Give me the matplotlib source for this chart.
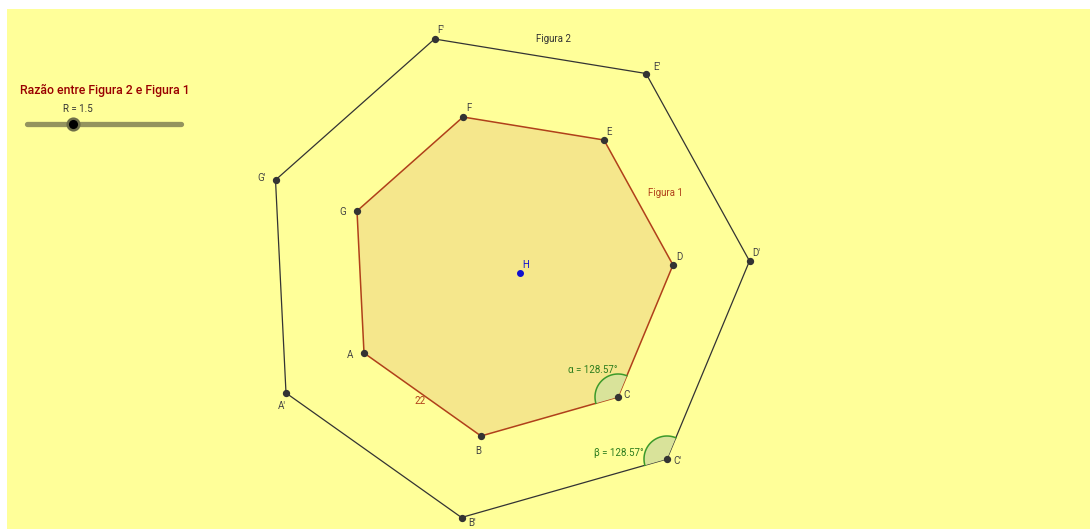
import numpy as np
import matplotlib.pyplot as plt
from matplotlib.patches import Polygon, Rectangle

# inner heptagon (Figura 1), screen coordinates
labels = ['A', 'B', 'C', 'D', 'E', 'F', 'G']
inner_x = [364, 481, 618, 673, 604, 463, 357]
inner_y = [353, 436, 397, 265, 140, 117, 211]
center = (520, 273)  # H
R = 1.5
side_label = '22'
angle_text = '128.57°'

# outer heptagon (Figura 2) = homothety of Figura 1 from H with ratio R
ix = np.array(inner_x, dtype=float)
iy = np.array(inner_y, dtype=float)
ox = center[0] + R * (ix - center[0])
oy = center[1] + R * (iy - center[1])

bg = '#FFFF99'
brown = '#B0401A'
green = '#2E7D1E'
dark = '#333333'

plt.rcParams['font.family'] = ['Roboto', 'DejaVu Sans']

fig = plt.figure(figsize=(10.9, 5.29), dpi=100)
fig.patch.set_facecolor('white')
ax = fig.add_axes([0, 0, 1, 1])
ax.set_xlim(0, 1090)
ax.set_ylim(529, 0)
ax.axis('off')

ax.add_patch(Rectangle((7, 9), 1090, 529, facecolor=bg, edgecolor='none', zorder=0))

# polygons
ax.add_patch(Polygon(np.column_stack([ix, iy]), closed=True, facecolor='#F5E78C',
                     edgecolor=brown, linewidth=1.1, zorder=2))
ax.add_patch(Polygon(np.column_stack([ox, oy]), closed=True, facecolor='none',
                     edgecolor=dark, linewidth=0.9, zorder=2))


def angle_sector(px, py, qx, qy, rx, ry, radius=23):
    a1 = np.arctan2(qy - py, qx - px)
    a2 = np.arctan2(ry - py, rx - px)
    d = (a2 - a1 + np.pi) % (2 * np.pi) - np.pi
    t = np.linspace(a1, a1 + d, 40)
    pts = np.column_stack([px + radius * np.cos(t), py + radius * np.sin(t)])
    pts = np.vstack([[px, py], pts])
    ax.add_patch(Polygon(pts, closed=True, facecolor='#D9E39A', edgecolor='none', zorder=3))
    ax.plot(pts[1:, 0], pts[1:, 1], color='#3C9A2A', linewidth=1.1, zorder=3)


# angle at C (between CD and CB) and at C'
angle_sector(ix[2], iy[2], ix[3], iy[3], ix[1], iy[1])
angle_sector(ox[2], oy[2], ox[3], oy[3], ox[1], oy[1])

# points
ax.scatter(ix, iy, s=18, color=dark, zorder=5)
ax.scatter(ox, oy, s=18, color=dark, zorder=5)
ax.scatter([center[0]], [center[1]], s=16, color='#1010D0', zorder=5)

# point labels (offsets in pixels)
inner_off = [(-14, 2), (-3, 15), (9, -2), (6, -8), (5, -8), (6, -9), (-14, 1)]
outer_off = [(-4, 13), (11, 5), (10, 2), (7, -8), (11, -6), (6, -9), (-14, -2)]
for lab, x, y, (dx, dy) in zip(labels, ix, iy, inner_off):
    ax.text(x + dx, y + dy, lab, fontsize=7, color='#444444', ha='center', va='center', zorder=6)
for lab, x, y, (dx, dy) in zip(labels, ox, oy, outer_off):
    ax.text(x + dx, y + dy, lab + "'", fontsize=7, color='#444444', ha='center', va='center', zorder=6)
ax.text(center[0] + 6, center[1] - 8, 'H', fontsize=7, color='#1010D0', ha='center', va='center', zorder=6)

# other labels
ax.text(554, 39, 'Figura 2', fontsize=7, color=dark, ha='center', va='center')
ax.text(665, 193, 'Figura 1', fontsize=7, color=brown, ha='center', va='center')
ax.text(420, 401, side_label, fontsize=7, color=brown, ha='center', va='center')
ax.text(593, 370, 'α = ' + angle_text, fontsize=7, color=green, ha='center', va='center')
ax.text(619, 453, 'β = ' + angle_text, fontsize=7, color=green, ha='center', va='center', zorder=6)

# slider
ax.text(20, 90, 'Razão entre Figura 2 e Figura 1', fontsize=8.8, color='#990000',
        ha='left', va='center', fontweight='medium')
slider_min, slider_max = 0, 5
sx0, sx1, sy = 27, 181, 124
ax.plot([sx0, sx1], [sy, sy], color='#94945E', linewidth=3.8, solid_capstyle='round', zorder=3)
knob_x = sx0 + (R - slider_min) / (slider_max - slider_min) * (sx1 - sx0)
ax.scatter([knob_x], [sy], s=70, color='black', edgecolor='#6E6E48', linewidth=1.8, zorder=4)
ax.text(knob_x + 5, 109, 'R = %.1f' % R, fontsize=7, color=dark, ha='center', va='center')

fig.savefig('out.png', dpi=100, facecolor='white')
